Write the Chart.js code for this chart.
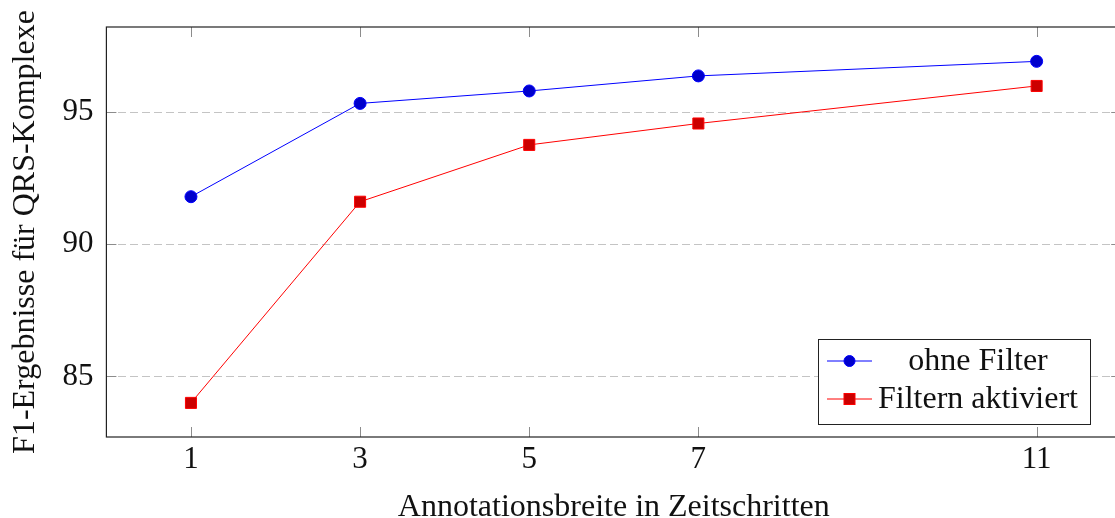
<!DOCTYPE html>
<html>
<head>
<meta charset="utf-8">
<script src="https://cdn.jsdelivr.net/npm/chart.js@4"></script>
<style>
    html, body { margin: 0; padding: 0; background: #fff; overflow: hidden; }
    #wrap { width: 1130px; height: 518px; }
</style>
</head>
<body>
<div id="wrap"><canvas id="chart"></canvas></div>
<script>
// Données
const annotationWidths = [1, 3, 5, 7, 11];
const ohneFilter = [91.8, 95.33, 95.8, 96.37, 96.92];
const filternAktiviert = [84.0, 91.61, 93.76, 94.57, 95.99];
const xTicks = [1, 3, 5, 7, 11];
const yTicks = [85, 90, 95];
const seriesLabels = ['ohne Filter', 'Filtern aktiviert'];

const FONT = '"Liberation Serif", "Times New Roman", serif';

function toPoints(values) {
    return annotationWidths.map((x, i) => ({ x: x, y: values[i] }));
}

// Cadre, graduations et légende
const framePlugin = {
    id: 'frame',
    afterDraw(chart) {
        const { ctx, chartArea: a, scales } = chart;
        ctx.save();

        // graduations intérieures
        ctx.strokeStyle = '#8c8c8c';
        ctx.lineWidth = 1;
        ctx.beginPath();
        xTicks.forEach(v => {
            const px = Math.round(scales.x.getPixelForValue(v)) + 0.5;
            ctx.moveTo(px, a.bottom); ctx.lineTo(px, a.bottom - 10);
            ctx.moveTo(px, a.top); ctx.lineTo(px, a.top + 10);
        });
        yTicks.forEach(v => {
            const py = Math.round(scales.y.getPixelForValue(v)) + 0.5;
            ctx.moveTo(a.left, py); ctx.lineTo(a.left + 10, py);
            ctx.moveTo(a.right, py); ctx.lineTo(a.right - 10, py);
        });
        ctx.stroke();

        // cadre
        ctx.strokeStyle = '#222';
        ctx.lineWidth = 1.2;
        ctx.strokeRect(a.left, a.top, a.right - a.left, a.bottom - a.top);

        // légende
        const box = { x: 818, y: 339, w: 272, h: 85 };
        ctx.fillStyle = '#fff';
        ctx.fillRect(box.x, box.y, box.w, box.h);
        ctx.strokeStyle = '#222';
        ctx.lineWidth = 1;
        ctx.strokeRect(box.x + 0.5, box.y + 0.5, box.w, box.h);

        ctx.font = '32px ' + FONT;
        ctx.textAlign = 'center';
        ctx.textBaseline = 'middle';
        chart.data.datasets.forEach((ds, i) => {
            const cy = box.y + 22 + i * 38;
            ctx.strokeStyle = ds.borderColor;
            ctx.lineWidth = 1;
            ctx.beginPath();
            ctx.moveTo(827, cy); ctx.lineTo(872, cy);
            ctx.stroke();
            ctx.fillStyle = ds.pointBackgroundColor;
            ctx.strokeStyle = ds.borderColor;
            if (ds.pointStyle === 'circle') {
                ctx.beginPath();
                ctx.arc(849.5, cy, 5.5, 0, Math.PI * 2);
                ctx.fill(); ctx.stroke();
            } else {
                ctx.fillRect(844, cy - 5.5, 11, 11);
                ctx.strokeRect(844, cy - 5.5, 11, 11);
            }
            ctx.fillStyle = '#111';
            ctx.fillText(ds.label, 978, cy + 1);
        });
        ctx.restore();
    }
};

const ctx = document.getElementById('chart').getContext('2d');
new Chart(ctx, {
    type: 'line',
    data: {
        datasets: [{
            label: seriesLabels[0],
            data: toPoints(ohneFilter),
            borderColor: 'rgb(0, 0, 255)',
            borderWidth: 1,
            pointStyle: 'circle',
            pointRadius: 6,
            pointBorderWidth: 1,
            pointBackgroundColor: 'rgb(0, 0, 204)',
            pointBorderColor: 'rgb(0, 0, 255)',
            tension: 0
        }, {
            label: seriesLabels[1],
            data: toPoints(filternAktiviert),
            borderColor: 'rgb(255, 0, 0)',
            borderWidth: 1,
            pointStyle: 'rect',
            pointRadius: 7.8,
            pointBorderWidth: 1,
            pointBackgroundColor: 'rgb(204, 0, 0)',
            pointBorderColor: 'rgb(255, 0, 0)',
            tension: 0
        }]
    },
    options: {
        responsive: true,
        maintainAspectRatio: false,
        animation: false,
        layout: { padding: { top: 27, right: 8.4, left: 0, bottom: 0 } },
        plugins: {
            legend: { display: false },
            tooltip: { enabled: false }
        },
        scales: {
            x: {
                type: 'linear',
                min: 0,
                max: 12,
                afterBuildTicks: scale => { scale.ticks = xTicks.map(v => ({ value: v })); },
                afterFit: scale => {
                    scale.height = 81;
                    scale.paddingLeft = 0;
                    scale.paddingRight = 0;
                },
                grid: { display: false, drawTicks: false },
                border: { display: false },
                ticks: {
                    padding: 4,
                    color: '#111',
                    font: { family: FONT, size: 31 }
                },
                title: {
                    display: true,
                    text: 'Annotationsbreite in Zeitschritten',
                    color: '#111',
                    font: { family: FONT, size: 32 },
                    padding: { top: 4, bottom: -9 }
                }
            },
            y: {
                type: 'linear',
                min: 82.71,
                max: 98.22,
                afterBuildTicks: scale => { scale.ticks = yTicks.map(v => ({ value: v })); },
                afterFit: scale => {
                    scale.width = 106.4;
                    scale.paddingTop = 0;
                    scale.paddingBottom = 0;
                },
                grid: {
                    drawTicks: false,
                    color: '#c4c4c4',
                    lineWidth: 1
                },
                border: { display: false, dash: [8, 4] },
                ticks: {
                    padding: 13,
                    color: '#111',
                    font: { family: FONT, size: 31 }
                },
                title: {
                    display: true,
                    text: 'F1-Ergebnisse für QRS-Komplexe',
                    color: '#111',
                    font: { family: FONT, size: 32 },
                    padding: { top: 6, bottom: 8 }
                }
            }
        }
    },
    plugins: [framePlugin]
});
</script>
</body>
</html>
